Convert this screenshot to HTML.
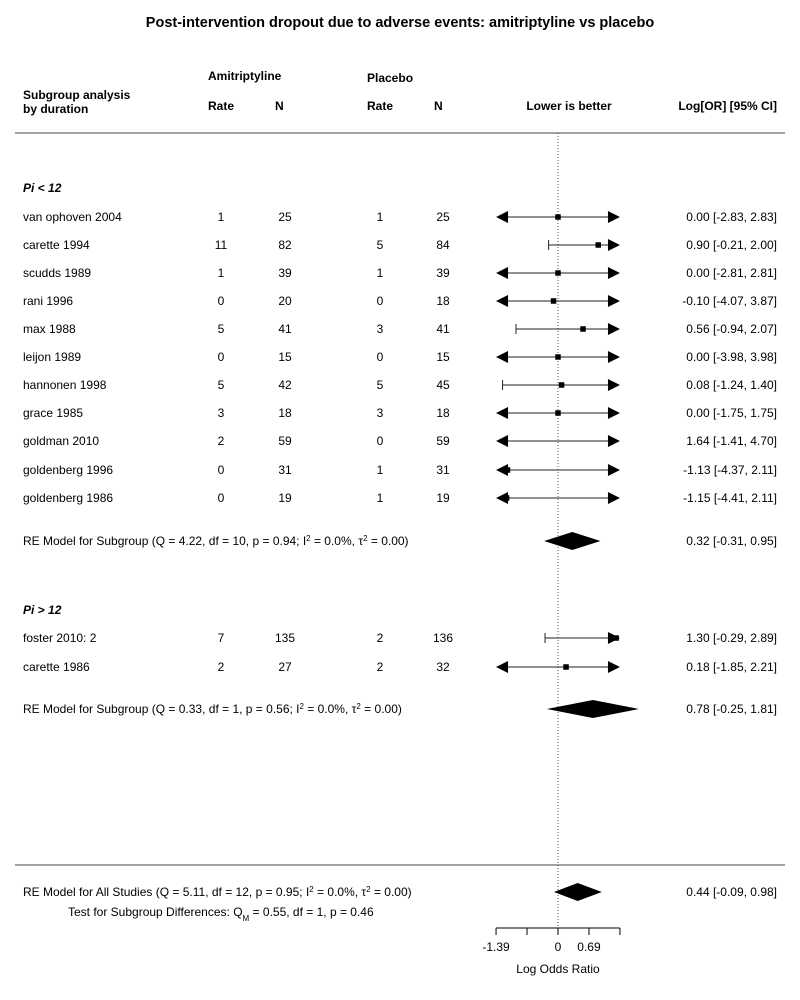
<!DOCTYPE html>
<html><head><meta charset="utf-8"><style>
body{margin:0;background:#fff;}
svg{display:block;font-family:"Liberation Sans",Arial,sans-serif;}
</style></head><body>
<svg id="plot" width="800" height="1000" xmlns="http://www.w3.org/2000/svg">
<text x="400" y="27" font-size="14.5" font-weight="bold" text-anchor="middle">Post-intervention dropout due to adverse events: amitriptyline vs placebo</text>
<g font-size="12" font-weight="bold">
<text x="208" y="80">Amitriptyline</text>
<text x="367" y="82">Placebo</text>
<text x="23" y="99">Subgroup analysis</text>
<text x="23" y="113">by duration</text>
<text x="208" y="110">Rate</text>
<text x="275" y="110">N</text>
<text x="367" y="110">Rate</text>
<text x="434" y="110">N</text>
<text x="569" y="110" text-anchor="middle">Lower is better</text>
<text x="777" y="110" text-anchor="end">Log[OR] [95% CI]</text>
</g>
<line x1="15" y1="133" x2="785" y2="133" stroke="#444"/>
<line x1="15" y1="865" x2="785" y2="865" stroke="#444"/>
<g id="rows" font-size="12"></g>
</svg>
<script>
const studies = ["van ophoven 2004","carette 1994","scudds 1989","rani 1996","max 1988","leijon 1989","hannonen 1998","grace 1985","goldman 2010","goldenberg 1996","goldenberg 1986","foster 2010: 2","carette 1986"];
const amiRate = [1,11,1,0,5,0,5,3,2,0,0,7,2];
const amiN = [25,82,39,20,41,15,42,18,59,31,19,135,27];
const plaRate = [1,5,1,0,3,0,5,3,0,1,1,2,2];
const plaN = [25,84,39,18,41,15,45,18,59,31,19,136,32];
const est = [0.00,0.90,0.00,-0.10,0.56,0.00,0.08,0.00,1.64,-1.13,-1.15,1.30,0.18];
const lo = [-2.83,-0.21,-2.81,-4.07,-0.94,-3.98,-1.24,-1.75,-1.41,-4.37,-4.41,-0.29,-1.85];
const hi = [2.83,2.00,2.81,3.87,2.07,3.98,1.40,1.75,4.70,2.11,2.11,2.89,2.21];
const rowY = [217,245,273,301,329,357,385,413,441,470,498,638,667];
const pooledLabels = ["RE Model for Subgroup (Q = 4.22, df = 10, p = 0.94; I² = 0.0%, τ² = 0.00)","RE Model for Subgroup (Q = 0.33, df = 1, p = 0.56; I² = 0.0%, τ² = 0.00)","RE Model for All Studies (Q = 5.11, df = 12, p = 0.95; I² = 0.0%, τ² = 0.00)"];
const pooledEst = [0.32,0.78,0.44];
const pooledLo = [-0.31,-0.25,-0.09];
const pooledHi = [0.95,1.81,0.98];
const pooledY = [541,709,892];
const tickVals = [-1.386,-0.693,0,0.693,1.386];
const tickLabels = ["-1.39","","0","0.69",""];

const NS="http://www.w3.org/2000/svg";
const g=document.getElementById('rows');
const X0=558, PX=44.7, XMIN=-1.386, XMAX=1.386;
const x=v=>X0+v*PX;
function mk(t,a,p){const e=document.createElementNS(NS,t);for(const k in a)e.setAttribute(k,a[k]);(p||g).appendChild(e);return e;}
function txt(s,xx,yy,anchor,extra){const e=mk('text',Object.assign({x:xx,y:yy,'text-anchor':anchor||'start'},extra||{}));e.textContent=s;return e;}
const f2=v=>(v<0?'-':'')+Math.abs(v).toFixed(2);

const ref=mk('line',{x1:x(0),y1:133,x2:x(0),y2:928,stroke:'#555','stroke-dasharray':'1,2'});



let h1=txt('Pi < 12',23,192,'start',{'font-weight':'bold','font-style':'italic'});


let h2=txt('Pi > 12',23,614,'start',{'font-weight':'bold','font-style':'italic'});



studies.forEach((s,i)=>{
  const y=rowY[i];
  const row=mk('g',{});
  
  
  const t0=mk('text',{x:23,y:y+4},row);t0.textContent=s;
  [[amiRate[i],221],[amiN[i],285],[plaRate[i],380],[plaN[i],443]].forEach(([v,cx])=>{const t=mk('text',{x:cx,y:y+4,'text-anchor':'middle'},row);t.textContent=v;});
  const ci=mk('text',{x:777,y:y+4,'text-anchor':'end'},row);ci.textContent=f2(est[i])+' ['+f2(lo[i])+', '+f2(hi[i])+']';
  const l=Math.max(lo[i],XMIN), r=Math.min(hi[i],XMAX);
  const la=lo[i]<XMIN, ra=hi[i]>XMAX;
  mk('line',{x1:x(l)+(la?6:0),y1:y,x2:x(r)-(ra?6:0),y2:y,stroke:'#222'},row);
  if(la) mk('polygon',{points:`${x(XMIN)},${y} ${x(XMIN)+12},${y-6} ${x(XMIN)+12},${y+6}`,fill:'#000'},row);
  else mk('line',{x1:x(l),y1:y-5,x2:x(l),y2:y+5,stroke:'#222'},row);
  if(ra) mk('polygon',{points:`${x(XMAX)},${y} ${x(XMAX)-12},${y-6} ${x(XMAX)-12},${y+6}`,fill:'#000'},row);
  else mk('line',{x1:x(r),y1:y-5,x2:x(r),y2:y+5,stroke:'#222'},row);
  if(est[i]>=XMIN && est[i]<=XMAX){
    const sz=5.5;
    mk('rect',{x:x(est[i])-sz/2,y:y-sz/2,width:sz,height:sz,fill:'#000'},row);
  }
});

pooledLabels.forEach((s,i)=>{
  const y=pooledY[i];
  const row=mk('g',{});
  
  
  const t=mk('text',{x:23,y:y+4},row);
  t.innerHTML=s.replace(/²/g,'<tspan baseline-shift="super" font-size="8">2</tspan>');
  const ci=mk('text',{x:777,y:y+4,'text-anchor':'end'},row);ci.textContent=f2(pooledEst[i])+' ['+f2(pooledLo[i])+', '+f2(pooledHi[i])+']';
  mk('polygon',{points:`${x(pooledLo[i])},${y} ${x(pooledEst[i])},${y-9} ${x(pooledHi[i])},${y} ${x(pooledEst[i])},${y+9}`,fill:'#000'},row);
});

const sd=mk('text',{x:68,y:916});


sd.innerHTML='Test for Subgroup Differences: Q<tspan baseline-shift="sub" font-size="8">M</tspan> = 0.55, df = 1, p = 0.46';

const ax=mk('g',{});


mk('line',{x1:x(tickVals[0]),y1:928,x2:x(tickVals[tickVals.length-1]),y2:928,stroke:'#000'},ax);
tickVals.forEach((v,i)=>{
  mk('line',{x1:x(v),y1:928,x2:x(v),y2:935,stroke:'#000'},ax);
  if(tickLabels[i]){const t=mk('text',{x:x(v),y:951,'text-anchor':'middle'},ax);t.textContent=tickLabels[i];}
});
const at=mk('text',{x:558,y:973,'text-anchor':'middle'},ax);at.textContent='Log Odds Ratio';
</script>
</body></html>
